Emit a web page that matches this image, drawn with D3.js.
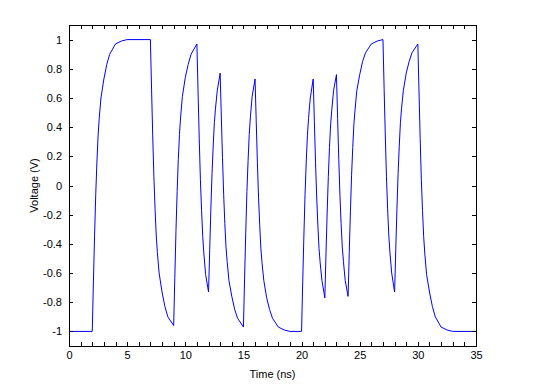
<!DOCTYPE html>
<html lang="en">
<head>
    <meta charset="utf-8">
    <style>
        body {
            margin: 0;
            padding: 0;
            background: #fff;
        }
        svg {
            display: block;
        }
        .axis text {
            font-family: "Liberation Sans", Arial, sans-serif;
            font-size: 11px;
            fill: #000;
        }
        .axis line, .axis path {
            stroke: #000;
            shape-rendering: crispEdges;
        }
        .label {
            font-family: "Liberation Sans", Arial, sans-serif;
            font-size: 11px;
            fill: #000;
        }
    </style>
</head>
<body>

<script src="https://cdn.jsdelivr.net/npm/d3@7"></script>
<script>
// time samples (ns), one line per bit edge
var timeNs = [
    0, 2,
    2.1, 2.2, 2.3, 2.4, 2.5, 2.6, 2.75, 3, 3.25, 3.5, 4, 4.5, 5, 7,
    7.1, 7.2, 7.3, 7.4, 7.5, 7.6, 7.75, 8, 8.25, 8.5, 9,
    9.1, 9.2, 9.3, 9.4, 9.5, 9.6, 9.75, 10, 10.25, 10.5, 11,
    11.1, 11.2, 11.3, 11.4, 11.5, 11.6, 11.75, 12,
    12.1, 12.2, 12.3, 12.4, 12.5, 12.6, 12.75, 13,
    13.1, 13.2, 13.3, 13.4, 13.5, 13.6, 13.75, 14, 14.25, 14.5, 15,
    15.1, 15.2, 15.3, 15.4, 15.5, 15.6, 15.75, 16,
    16.1, 16.2, 16.3, 16.4, 16.5, 16.6, 16.75, 17, 17.25, 17.5, 18, 18.5, 19, 20,
    20.1, 20.2, 20.3, 20.4, 20.5, 20.6, 20.75, 21,
    21.1, 21.2, 21.3, 21.4, 21.5, 21.6, 21.75, 22,
    22.1, 22.2, 22.3, 22.4, 22.5, 22.6, 22.75, 23,
    23.1, 23.2, 23.3, 23.4, 23.5, 23.6, 23.75, 24,
    24.1, 24.2, 24.3, 24.4, 24.5, 24.6, 24.75, 25, 25.25, 25.5, 26, 26.5, 27,
    27.1, 27.2, 27.3, 27.4, 27.5, 27.6, 27.75, 28,
    28.1, 28.2, 28.3, 28.4, 28.5, 28.6, 28.75, 29, 29.25, 29.5, 30,
    30.1, 30.2, 30.3, 30.4, 30.5, 30.6, 30.75, 31, 31.25, 31.5, 32, 32.5, 33, 35
];

// voltage (V) at those times
var voltage = [
    -1, -1,
    -0.66, -0.34, -0.06, 0.16, 0.34, 0.46, 0.60, 0.73, 0.83, 0.90, 0.97, 0.99, 1, 1,
    0.66, 0.34, 0.06, -0.16, -0.34, -0.46, -0.60, -0.73, -0.83, -0.90, -0.96,
    -0.63, -0.31, -0.04, 0.18, 0.35, 0.47, 0.61, 0.74, 0.83, 0.90, 0.97,
    0.64, 0.32, 0.04, -0.17, -0.35, -0.47, -0.61, -0.73,
    -0.44, -0.16, 0.08, 0.27, 0.43, 0.53, 0.65, 0.77,
    0.47, 0.19, -0.06, -0.26, -0.42, -0.52, -0.65, -0.76, -0.85, -0.91, -0.97,
    -0.64, -0.32, -0.04, 0.17, 0.35, 0.47, 0.61, 0.73,
    0.44, 0.16, -0.08, -0.27, -0.43, -0.53, -0.65, -0.77, -0.85, -0.91, -0.97, -0.99, -1, -1,
    -0.66, -0.34, -0.06, 0.16, 0.34, 0.46, 0.60, 0.73,
    0.44, 0.16, -0.08, -0.27, -0.43, -0.53, -0.65, -0.77,
    -0.47, -0.19, 0.06, 0.26, 0.42, 0.52, 0.65, 0.76,
    0.46, 0.18, -0.07, -0.26, -0.42, -0.52, -0.65, -0.76,
    -0.46, -0.18, 0.07, 0.26, 0.42, 0.52, 0.65, 0.76, 0.85, 0.91, 0.97, 0.99, 1,
    0.66, 0.34, 0.06, -0.16, -0.34, -0.46, -0.60, -0.73,
    -0.44, -0.16, 0.08, 0.27, 0.43, 0.53, 0.65, 0.77, 0.85, 0.91, 0.97,
    0.64, 0.32, 0.04, -0.17, -0.35, -0.47, -0.61, -0.73, -0.83, -0.90, -0.97, -0.99, -1, -1
];

var xTicks = d3.range(0, 36, 1);
var xTickLabels = [0, 5, 10, 15, 20, 25, 30, 35];
var yTicks = [-1, -0.8, -0.6, -0.4, -0.2, 0, 0.2, 0.4, 0.6, 0.8, 1];

(function() {
    var width = 533;
    var height = 392;
    var left = 69, right = 476, top = 25, bottom = 346;

    var svg = d3.select('body')
        .append('svg')
        .attr('width', width)
        .attr('height', height)

    var x = d3.scaleLinear().domain([0, 35]).range([left, right]);
    var y = d3.scaleLinear().domain([-1.1, 1.1]).range([bottom, top]);

    var points = d3.zip(timeNs, voltage);

    // the trace
    var line = d3.line()
        .x(function (d) { return x(d[0]); })
        .y(function (d) { return y(d[1]); })

    svg.append('path')
        .datum(points)
        .attr('d', line)
        .attr('fill', 'none')
        .attr('stroke', '#0000ff')
        .attr('stroke-width', 1)

    // axes, ticks pointing inward, box all round
    var fmtX = function (d) { return xTickLabels.indexOf(d) >= 0 ? d : ''; };
    var fmtY = function (d) { return String(+d.toFixed(1)); };

    svg.append('g')
        .attr('class', 'axis')
        .attr('transform', 'translate(0,' + bottom + ')')
        .call(d3.axisBottom(x).tickValues(xTicks).tickFormat(fmtX)
            .tickSizeInner(-4).tickSizeOuter(0).tickPadding(5))

    svg.append('g')
        .attr('class', 'axis')
        .attr('transform', 'translate(0,' + top + ')')
        .call(d3.axisTop(x).tickValues(xTicks).tickFormat('')
            .tickSizeInner(-4).tickSizeOuter(0))

    svg.append('g')
        .attr('class', 'axis')
        .attr('transform', 'translate(' + left + ',0)')
        .call(d3.axisLeft(y).tickValues(yTicks).tickFormat(fmtY)
            .tickSizeInner(-4).tickSizeOuter(0).tickPadding(7))

    svg.append('g')
        .attr('class', 'axis')
        .attr('transform', 'translate(' + right + ',0)')
        .call(d3.axisRight(y).tickValues(yTicks).tickFormat('')
            .tickSizeInner(-4).tickSizeOuter(0))

    svg.selectAll('.axis').attr('font-family', null).attr('font-size', null)

    // axis titles
    svg.append('text')
        .attr('class', 'label')
        .attr('x', (left + right) / 2)
        .attr('y', 378)
        .attr('text-anchor', 'middle')
        .text('Time (ns)')

    svg.append('text')
        .attr('class', 'label')
        .attr('transform', 'translate(38,' + ((top + bottom) / 2) + ') rotate(-90)')
        .attr('text-anchor', 'middle')
        .text('Voltage (V)')
})();
</script>

</body>
</html>
